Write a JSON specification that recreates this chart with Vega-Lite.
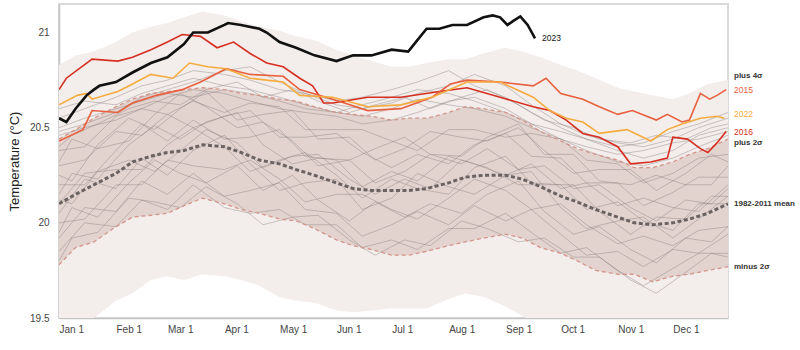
{
  "$schema": "https://vega.github.io/schema/vega-lite/v6.json",
  "width": 669,
  "height": 314,
  "autosize": {"type": "none"},
  "padding": {"left": 59, "top": 4, "right": 72, "bottom": 32},
  "background": "white",
  "config": {
    "font": "Liberation Sans",
    "view": {"stroke": "#dadada", "strokeWidth": 2},
    "axis": {"domainColor": "#c4c4c4", "domainWidth": 1.5, "grid": false, "ticks": false, "labelColor": "#444", "labelFontSize": 10}
  },
  "datasets": {
    "band": [
      {"d": "2023-01-01", "m4": 19.35, "m2": 19.78, "mean": 20.10, "p2": 20.44, "p4": 20.83},
      {"d": "2023-01-10", "m4": 19.40, "m2": 19.87, "mean": 20.15, "p2": 20.49, "p4": 20.88},
      {"d": "2023-01-20", "m4": 19.50, "m2": 19.90, "mean": 20.20, "p2": 20.55, "p4": 20.90},
      {"d": "2023-02-01", "m4": 19.59, "m2": 19.98, "mean": 20.26, "p2": 20.61, "p4": 20.95},
      {"d": "2023-02-10", "m4": 19.63, "m2": 20.03, "mean": 20.32, "p2": 20.65, "p4": 21.00},
      {"d": "2023-02-20", "m4": 19.70, "m2": 20.04, "mean": 20.35, "p2": 20.68, "p4": 21.03},
      {"d": "2023-03-01", "m4": 19.72, "m2": 20.05, "mean": 20.37, "p2": 20.69, "p4": 21.05},
      {"d": "2023-03-10", "m4": 19.70, "m2": 20.09, "mean": 20.38, "p2": 20.70, "p4": 21.08},
      {"d": "2023-03-20", "m4": 19.73, "m2": 20.13, "mean": 20.41, "p2": 20.71, "p4": 21.11},
      {"d": "2023-04-01", "m4": 19.72, "m2": 20.10, "mean": 20.40, "p2": 20.70, "p4": 21.09},
      {"d": "2023-04-10", "m4": 19.70, "m2": 20.07, "mean": 20.37, "p2": 20.68, "p4": 21.06},
      {"d": "2023-04-20", "m4": 19.67, "m2": 20.05, "mean": 20.33, "p2": 20.67, "p4": 21.03},
      {"d": "2023-05-01", "m4": 19.61, "m2": 20.02, "mean": 20.31, "p2": 20.65, "p4": 21.01},
      {"d": "2023-05-10", "m4": 19.59, "m2": 20.01, "mean": 20.28, "p2": 20.64, "p4": 20.98},
      {"d": "2023-05-20", "m4": 19.58, "m2": 19.97, "mean": 20.25, "p2": 20.61, "p4": 20.96},
      {"d": "2023-06-01", "m4": 19.54, "m2": 19.91, "mean": 20.21, "p2": 20.58, "p4": 20.91},
      {"d": "2023-06-10", "m4": 19.53, "m2": 19.88, "mean": 20.18, "p2": 20.57, "p4": 20.88},
      {"d": "2023-06-20", "m4": 19.54, "m2": 19.86, "mean": 20.17, "p2": 20.56, "p4": 20.85},
      {"d": "2023-07-01", "m4": 19.55, "m2": 19.83, "mean": 20.17, "p2": 20.54, "p4": 20.82},
      {"d": "2023-07-10", "m4": 19.55, "m2": 19.83, "mean": 20.17, "p2": 20.55, "p4": 20.82},
      {"d": "2023-07-20", "m4": 19.55, "m2": 19.85, "mean": 20.18, "p2": 20.55, "p4": 20.84},
      {"d": "2023-08-01", "m4": 19.60, "m2": 19.88, "mean": 20.21, "p2": 20.58, "p4": 20.86},
      {"d": "2023-08-10", "m4": 19.63, "m2": 19.90, "mean": 20.24, "p2": 20.61, "p4": 20.86},
      {"d": "2023-08-20", "m4": 19.61, "m2": 19.92, "mean": 20.25, "p2": 20.60, "p4": 20.89},
      {"d": "2023-09-01", "m4": 19.56, "m2": 19.94, "mean": 20.25, "p2": 20.58, "p4": 20.92},
      {"d": "2023-09-10", "m4": 19.51, "m2": 19.92, "mean": 20.23, "p2": 20.54, "p4": 20.90},
      {"d": "2023-09-20", "m4": 19.46, "m2": 19.87, "mean": 20.19, "p2": 20.48, "p4": 20.87},
      {"d": "2023-10-01", "m4": 19.42, "m2": 19.84, "mean": 20.14, "p2": 20.43, "p4": 20.83},
      {"d": "2023-10-10", "m4": 19.40, "m2": 19.80, "mean": 20.11, "p2": 20.39, "p4": 20.80},
      {"d": "2023-10-20", "m4": 19.38, "m2": 19.75, "mean": 20.07, "p2": 20.36, "p4": 20.76},
      {"d": "2023-11-01", "m4": 19.36, "m2": 19.73, "mean": 20.03, "p2": 20.33, "p4": 20.71},
      {"d": "2023-11-10", "m4": 19.35, "m2": 19.73, "mean": 20.00, "p2": 20.29, "p4": 20.69},
      {"d": "2023-11-20", "m4": 19.34, "m2": 19.69, "mean": 19.99, "p2": 20.29, "p4": 20.67},
      {"d": "2023-12-01", "m4": 19.36, "m2": 19.72, "mean": 20.00, "p2": 20.32, "p4": 20.65},
      {"d": "2023-12-10", "m4": 19.38, "m2": 19.73, "mean": 20.02, "p2": 20.36, "p4": 20.68},
      {"d": "2023-12-20", "m4": 19.40, "m2": 19.75, "mean": 20.05, "p2": 20.39, "p4": 20.73},
      {"d": "2023-12-31", "m4": 19.42, "m2": 19.77, "mean": 20.10, "p2": 20.44, "p4": 20.75}
    ],
    "grays": [
      {"s": "u1", "d": "2023-01-01", "v": 20.55}, {"s": "u1", "d": "2023-01-15", "v": 20.60}, {"s": "u1", "d": "2023-02-01", "v": 20.66}, {"s": "u1", "d": "2023-02-15", "v": 20.72}, {"s": "u1", "d": "2023-03-01", "v": 20.75}, {"s": "u1", "d": "2023-03-15", "v": 20.80}, {"s": "u1", "d": "2023-04-01", "v": 20.78}, {"s": "u1", "d": "2023-04-15", "v": 20.75}, {"s": "u1", "d": "2023-05-01", "v": 20.70}, {"s": "u1", "d": "2023-05-15", "v": 20.68}, {"s": "u1", "d": "2023-06-01", "v": 20.62}, {"s": "u1", "d": "2023-06-15", "v": 20.60}, {"s": "u1", "d": "2023-07-01", "v": 20.63}, {"s": "u1", "d": "2023-07-15", "v": 20.68}, {"s": "u1", "d": "2023-08-01", "v": 20.72}, {"s": "u1", "d": "2023-08-15", "v": 20.78}, {"s": "u1", "d": "2023-09-01", "v": 20.72}, {"s": "u1", "d": "2023-09-15", "v": 20.62}, {"s": "u1", "d": "2023-10-01", "v": 20.52}, {"s": "u1", "d": "2023-10-15", "v": 20.46}, {"s": "u1", "d": "2023-11-01", "v": 20.42}, {"s": "u1", "d": "2023-11-15", "v": 20.40}, {"s": "u1", "d": "2023-12-01", "v": 20.44}, {"s": "u1", "d": "2023-12-15", "v": 20.50}, {"s": "u1", "d": "2023-12-31", "v": 20.55},
      {"s": "u2", "d": "2023-01-01", "v": 20.48}, {"s": "u2", "d": "2023-01-15", "v": 20.52}, {"s": "u2", "d": "2023-02-01", "v": 20.58}, {"s": "u2", "d": "2023-02-15", "v": 20.66}, {"s": "u2", "d": "2023-03-01", "v": 20.70}, {"s": "u2", "d": "2023-03-15", "v": 20.74}, {"s": "u2", "d": "2023-04-01", "v": 20.80}, {"s": "u2", "d": "2023-04-15", "v": 20.82}, {"s": "u2", "d": "2023-05-01", "v": 20.74}, {"s": "u2", "d": "2023-05-15", "v": 20.68}, {"s": "u2", "d": "2023-06-01", "v": 20.64}, {"s": "u2", "d": "2023-06-15", "v": 20.66}, {"s": "u2", "d": "2023-07-01", "v": 20.70}, {"s": "u2", "d": "2023-07-15", "v": 20.74}, {"s": "u2", "d": "2023-08-01", "v": 20.80}, {"s": "u2", "d": "2023-08-15", "v": 20.72}, {"s": "u2", "d": "2023-09-01", "v": 20.66}, {"s": "u2", "d": "2023-09-15", "v": 20.58}, {"s": "u2", "d": "2023-10-01", "v": 20.50}, {"s": "u2", "d": "2023-10-15", "v": 20.44}, {"s": "u2", "d": "2023-11-01", "v": 20.38}, {"s": "u2", "d": "2023-11-15", "v": 20.34}, {"s": "u2", "d": "2023-12-01", "v": 20.38}, {"s": "u2", "d": "2023-12-15", "v": 20.46}, {"s": "u2", "d": "2023-12-31", "v": 20.50},
      {"s": "u3", "d": "2023-01-01", "v": 20.60}, {"s": "u3", "d": "2023-01-15", "v": 20.64}, {"s": "u3", "d": "2023-02-01", "v": 20.62}, {"s": "u3", "d": "2023-02-15", "v": 20.68}, {"s": "u3", "d": "2023-03-01", "v": 20.72}, {"s": "u3", "d": "2023-03-15", "v": 20.76}, {"s": "u3", "d": "2023-04-01", "v": 20.72}, {"s": "u3", "d": "2023-04-15", "v": 20.70}, {"s": "u3", "d": "2023-05-01", "v": 20.66}, {"s": "u3", "d": "2023-05-15", "v": 20.62}, {"s": "u3", "d": "2023-06-01", "v": 20.58}, {"s": "u3", "d": "2023-06-15", "v": 20.56}, {"s": "u3", "d": "2023-07-01", "v": 20.60}, {"s": "u3", "d": "2023-07-15", "v": 20.65}, {"s": "u3", "d": "2023-08-01", "v": 20.62}, {"s": "u3", "d": "2023-08-15", "v": 20.60}, {"s": "u3", "d": "2023-09-01", "v": 20.56}, {"s": "u3", "d": "2023-09-15", "v": 20.50}, {"s": "u3", "d": "2023-10-01", "v": 20.44}, {"s": "u3", "d": "2023-10-15", "v": 20.40}, {"s": "u3", "d": "2023-11-01", "v": 20.36}, {"s": "u3", "d": "2023-11-15", "v": 20.38}, {"s": "u3", "d": "2023-12-01", "v": 20.42}, {"s": "u3", "d": "2023-12-15", "v": 20.44}, {"s": "u3", "d": "2023-12-31", "v": 20.48},
      {"s": "u4", "d": "2023-01-01", "v": 20.46}, {"s": "u4", "d": "2023-01-15", "v": 20.50}, {"s": "u4", "d": "2023-02-01", "v": 20.54}, {"s": "u4", "d": "2023-02-15", "v": 20.60}, {"s": "u4", "d": "2023-03-01", "v": 20.66}, {"s": "u4", "d": "2023-03-15", "v": 20.70}, {"s": "u4", "d": "2023-04-01", "v": 20.68}, {"s": "u4", "d": "2023-04-15", "v": 20.64}, {"s": "u4", "d": "2023-05-01", "v": 20.60}, {"s": "u4", "d": "2023-05-15", "v": 20.58}, {"s": "u4", "d": "2023-06-01", "v": 20.56}, {"s": "u4", "d": "2023-06-15", "v": 20.52}, {"s": "u4", "d": "2023-07-01", "v": 20.54}, {"s": "u4", "d": "2023-07-15", "v": 20.58}, {"s": "u4", "d": "2023-08-01", "v": 20.64}, {"s": "u4", "d": "2023-08-15", "v": 20.66}, {"s": "u4", "d": "2023-09-01", "v": 20.60}, {"s": "u4", "d": "2023-09-15", "v": 20.52}, {"s": "u4", "d": "2023-10-01", "v": 20.44}, {"s": "u4", "d": "2023-10-15", "v": 20.38}, {"s": "u4", "d": "2023-11-01", "v": 20.32}, {"s": "u4", "d": "2023-11-15", "v": 20.30}, {"s": "u4", "d": "2023-12-01", "v": 20.34}, {"s": "u4", "d": "2023-12-15", "v": 20.40}, {"s": "u4", "d": "2023-12-31", "v": 20.46},
      {"s": "u5", "d": "2023-01-01", "v": 20.50}, {"s": "u5", "d": "2023-01-15", "v": 20.55}, {"s": "u5", "d": "2023-02-01", "v": 20.60}, {"s": "u5", "d": "2023-02-15", "v": 20.64}, {"s": "u5", "d": "2023-03-01", "v": 20.68}, {"s": "u5", "d": "2023-03-15", "v": 20.66}, {"s": "u5", "d": "2023-04-01", "v": 20.70}, {"s": "u5", "d": "2023-04-15", "v": 20.68}, {"s": "u5", "d": "2023-05-01", "v": 20.64}, {"s": "u5", "d": "2023-05-15", "v": 20.60}, {"s": "u5", "d": "2023-06-01", "v": 20.58}, {"s": "u5", "d": "2023-06-15", "v": 20.62}, {"s": "u5", "d": "2023-07-01", "v": 20.66}, {"s": "u5", "d": "2023-07-15", "v": 20.70}, {"s": "u5", "d": "2023-08-01", "v": 20.68}, {"s": "u5", "d": "2023-08-15", "v": 20.64}, {"s": "u5", "d": "2023-09-01", "v": 20.58}, {"s": "u5", "d": "2023-09-15", "v": 20.52}, {"s": "u5", "d": "2023-10-01", "v": 20.48}, {"s": "u5", "d": "2023-10-15", "v": 20.44}, {"s": "u5", "d": "2023-11-01", "v": 20.40}, {"s": "u5", "d": "2023-11-15", "v": 20.42}, {"s": "u5", "d": "2023-12-01", "v": 20.48}, {"s": "u5", "d": "2023-12-15", "v": 20.52}, {"s": "u5", "d": "2023-12-31", "v": 20.58},
      {"s": "u6", "d": "2023-01-01", "v": 20.40}, {"s": "u6", "d": "2023-01-08", "v": 20.46}, {"s": "u6", "d": "2023-01-22", "v": 20.52}, {"s": "u6", "d": "2023-02-08", "v": 20.60}, {"s": "u6", "d": "2023-02-22", "v": 20.64}, {"s": "u6", "d": "2023-03-08", "v": 20.62}, {"s": "u6", "d": "2023-03-22", "v": 20.70}, {"s": "u6", "d": "2023-04-08", "v": 20.74}, {"s": "u6", "d": "2023-04-22", "v": 20.66}, {"s": "u6", "d": "2023-05-08", "v": 20.70}, {"s": "u6", "d": "2023-05-22", "v": 20.64}, {"s": "u6", "d": "2023-06-08", "v": 20.58}, {"s": "u6", "d": "2023-06-22", "v": 20.62}, {"s": "u6", "d": "2023-07-08", "v": 20.66}, {"s": "u6", "d": "2023-07-22", "v": 20.60}, {"s": "u6", "d": "2023-08-08", "v": 20.66}, {"s": "u6", "d": "2023-08-22", "v": 20.70}, {"s": "u6", "d": "2023-09-08", "v": 20.62}, {"s": "u6", "d": "2023-09-22", "v": 20.54}, {"s": "u6", "d": "2023-10-08", "v": 20.50}, {"s": "u6", "d": "2023-10-22", "v": 20.44}, {"s": "u6", "d": "2023-11-08", "v": 20.42}, {"s": "u6", "d": "2023-11-22", "v": 20.46}, {"s": "u6", "d": "2023-12-08", "v": 20.44}, {"s": "u6", "d": "2023-12-22", "v": 20.50}, {"s": "u6", "d": "2023-12-31", "v": 20.52},
      {"s": "g1", "d": "2023-01-01", "v": 20.30}, {"s": "g1", "d": "2023-01-15", "v": 20.33}, {"s": "g1", "d": "2023-02-01", "v": 20.48}, {"s": "g1", "d": "2023-02-15", "v": 20.46}, {"s": "g1", "d": "2023-03-01", "v": 20.57}, {"s": "g1", "d": "2023-03-15", "v": 20.50}, {"s": "g1", "d": "2023-04-01", "v": 20.56}, {"s": "g1", "d": "2023-04-15", "v": 20.59}, {"s": "g1", "d": "2023-05-01", "v": 20.45}, {"s": "g1", "d": "2023-05-15", "v": 20.45}, {"s": "g1", "d": "2023-06-01", "v": 20.47}, {"s": "g1", "d": "2023-06-15", "v": 20.37}, {"s": "g1", "d": "2023-07-01", "v": 20.29}, {"s": "g1", "d": "2023-07-15", "v": 20.36}, {"s": "g1", "d": "2023-08-01", "v": 20.31}, {"s": "g1", "d": "2023-08-15", "v": 20.41}, {"s": "g1", "d": "2023-09-01", "v": 20.47}, {"s": "g1", "d": "2023-09-15", "v": 20.35}, {"s": "g1", "d": "2023-10-01", "v": 20.34}, {"s": "g1", "d": "2023-10-15", "v": 20.21}, {"s": "g1", "d": "2023-11-01", "v": 20.21}, {"s": "g1", "d": "2023-11-15", "v": 20.09}, {"s": "g1", "d": "2023-12-01", "v": 20.16}, {"s": "g1", "d": "2023-12-15", "v": 20.24}, {"s": "g1", "d": "2023-12-31", "v": 20.24},
      {"s": "g2", "d": "2023-01-01", "v": 20.05}, {"s": "g2", "d": "2023-01-15", "v": 20.23}, {"s": "g2", "d": "2023-02-01", "v": 20.18}, {"s": "g2", "d": "2023-02-15", "v": 20.34}, {"s": "g2", "d": "2023-03-01", "v": 20.25}, {"s": "g2", "d": "2023-03-15", "v": 20.38}, {"s": "g2", "d": "2023-04-01", "v": 20.46}, {"s": "g2", "d": "2023-04-15", "v": 20.31}, {"s": "g2", "d": "2023-05-01", "v": 20.17}, {"s": "g2", "d": "2023-05-15", "v": 20.21}, {"s": "g2", "d": "2023-06-01", "v": 20.23}, {"s": "g2", "d": "2023-06-15", "v": 20.07}, {"s": "g2", "d": "2023-07-01", "v": 20.13}, {"s": "g2", "d": "2023-07-15", "v": 20.26}, {"s": "g2", "d": "2023-08-01", "v": 20.19}, {"s": "g2", "d": "2023-08-15", "v": 20.15}, {"s": "g2", "d": "2023-09-01", "v": 20.25}, {"s": "g2", "d": "2023-09-15", "v": 20.27}, {"s": "g2", "d": "2023-10-01", "v": 20.08}, {"s": "g2", "d": "2023-10-15", "v": 19.97}, {"s": "g2", "d": "2023-11-01", "v": 20.01}, {"s": "g2", "d": "2023-11-15", "v": 20.03}, {"s": "g2", "d": "2023-12-01", "v": 19.92}, {"s": "g2", "d": "2023-12-15", "v": 20.02}, {"s": "g2", "d": "2023-12-31", "v": 20.14},
      {"s": "g3", "d": "2023-01-01", "v": 19.92}, {"s": "g3", "d": "2023-01-15", "v": 20.08}, {"s": "g3", "d": "2023-02-01", "v": 20.06}, {"s": "g3", "d": "2023-02-15", "v": 20.22}, {"s": "g3", "d": "2023-03-01", "v": 20.15}, {"s": "g3", "d": "2023-03-15", "v": 20.26}, {"s": "g3", "d": "2023-04-01", "v": 20.14}, {"s": "g3", "d": "2023-04-15", "v": 20.17}, {"s": "g3", "d": "2023-05-01", "v": 20.21}, {"s": "g3", "d": "2023-05-15", "v": 20.07}, {"s": "g3", "d": "2023-06-01", "v": 20.05}, {"s": "g3", "d": "2023-06-15", "v": 19.93}, {"s": "g3", "d": "2023-07-01", "v": 19.99}, {"s": "g3", "d": "2023-07-15", "v": 20.06}, {"s": "g3", "d": "2023-08-01", "v": 19.99}, {"s": "g3", "d": "2023-08-15", "v": 20.09}, {"s": "g3", "d": "2023-09-01", "v": 20.01}, {"s": "g3", "d": "2023-09-15", "v": 20.07}, {"s": "g3", "d": "2023-10-01", "v": 19.94}, {"s": "g3", "d": "2023-10-15", "v": 19.83}, {"s": "g3", "d": "2023-11-01", "v": 19.85}, {"s": "g3", "d": "2023-11-15", "v": 19.77}, {"s": "g3", "d": "2023-12-01", "v": 19.86}, {"s": "g3", "d": "2023-12-15", "v": 19.84}, {"s": "g3", "d": "2023-12-31", "v": 19.94},
      {"s": "g4", "d": "2023-01-01", "v": 20.20}, {"s": "g4", "d": "2023-01-15", "v": 20.20}, {"s": "g4", "d": "2023-02-01", "v": 20.38}, {"s": "g4", "d": "2023-02-15", "v": 20.52}, {"s": "g4", "d": "2023-03-01", "v": 20.43}, {"s": "g4", "d": "2023-03-15", "v": 20.54}, {"s": "g4", "d": "2023-04-01", "v": 20.44}, {"s": "g4", "d": "2023-04-15", "v": 20.45}, {"s": "g4", "d": "2023-05-01", "v": 20.49}, {"s": "g4", "d": "2023-05-15", "v": 20.35}, {"s": "g4", "d": "2023-06-01", "v": 20.33}, {"s": "g4", "d": "2023-06-15", "v": 20.19}, {"s": "g4", "d": "2023-07-01", "v": 20.27}, {"s": "g4", "d": "2023-07-15", "v": 20.22}, {"s": "g4", "d": "2023-08-01", "v": 20.35}, {"s": "g4", "d": "2023-08-15", "v": 20.31}, {"s": "g4", "d": "2023-09-01", "v": 20.25}, {"s": "g4", "d": "2023-09-15", "v": 20.31}, {"s": "g4", "d": "2023-10-01", "v": 20.18}, {"s": "g4", "d": "2023-10-15", "v": 20.21}, {"s": "g4", "d": "2023-11-01", "v": 20.09}, {"s": "g4", "d": "2023-11-15", "v": 20.13}, {"s": "g4", "d": "2023-12-01", "v": 20.08}, {"s": "g4", "d": "2023-12-15", "v": 20.06}, {"s": "g4", "d": "2023-12-31", "v": 20.20},
      {"s": "g5", "d": "2023-01-01", "v": 19.85}, {"s": "g5", "d": "2023-01-15", "v": 20.00}, {"s": "g5", "d": "2023-02-01", "v": 19.98}, {"s": "g5", "d": "2023-02-15", "v": 20.12}, {"s": "g5", "d": "2023-03-01", "v": 20.07}, {"s": "g5", "d": "2023-03-15", "v": 20.20}, {"s": "g5", "d": "2023-04-01", "v": 20.08}, {"s": "g5", "d": "2023-04-15", "v": 20.05}, {"s": "g5", "d": "2023-05-01", "v": 20.07}, {"s": "g5", "d": "2023-05-15", "v": 19.99}, {"s": "g5", "d": "2023-06-01", "v": 19.99}, {"s": "g5", "d": "2023-06-15", "v": 19.87}, {"s": "g5", "d": "2023-07-01", "v": 19.91}, {"s": "g5", "d": "2023-07-15", "v": 19.86}, {"s": "g5", "d": "2023-08-01", "v": 19.97}, {"s": "g5", "d": "2023-08-15", "v": 19.97}, {"s": "g5", "d": "2023-09-01", "v": 20.05}, {"s": "g5", "d": "2023-09-15", "v": 19.95}, {"s": "g5", "d": "2023-10-01", "v": 19.84}, {"s": "g5", "d": "2023-10-15", "v": 19.87}, {"s": "g5", "d": "2023-11-01", "v": 19.75}, {"s": "g5", "d": "2023-11-15", "v": 19.67}, {"s": "g5", "d": "2023-12-01", "v": 19.76}, {"s": "g5", "d": "2023-12-15", "v": 19.84}, {"s": "g5", "d": "2023-12-31", "v": 19.84},
      {"s": "g6", "d": "2023-01-01", "v": 20.10}, {"s": "g6", "d": "2023-01-15", "v": 20.26}, {"s": "g6", "d": "2023-02-01", "v": 20.28}, {"s": "g6", "d": "2023-02-15", "v": 20.28}, {"s": "g6", "d": "2023-03-01", "v": 20.41}, {"s": "g6", "d": "2023-03-15", "v": 20.50}, {"s": "g6", "d": "2023-04-01", "v": 20.40}, {"s": "g6", "d": "2023-04-15", "v": 20.27}, {"s": "g6", "d": "2023-05-01", "v": 20.33}, {"s": "g6", "d": "2023-05-15", "v": 20.37}, {"s": "g6", "d": "2023-06-01", "v": 20.25}, {"s": "g6", "d": "2023-06-15", "v": 20.13}, {"s": "g6", "d": "2023-07-01", "v": 20.23}, {"s": "g6", "d": "2023-07-15", "v": 20.18}, {"s": "g6", "d": "2023-08-01", "v": 20.15}, {"s": "g6", "d": "2023-08-15", "v": 20.29}, {"s": "g6", "d": "2023-09-01", "v": 20.35}, {"s": "g6", "d": "2023-09-15", "v": 20.21}, {"s": "g6", "d": "2023-10-01", "v": 20.20}, {"s": "g6", "d": "2023-10-15", "v": 20.07}, {"s": "g6", "d": "2023-11-01", "v": 20.11}, {"s": "g6", "d": "2023-11-15", "v": 20.01}, {"s": "g6", "d": "2023-12-01", "v": 19.96}, {"s": "g6", "d": "2023-12-15", "v": 20.10}, {"s": "g6", "d": "2023-12-31", "v": 20.10},
      {"s": "g7", "d": "2023-01-01", "v": 20.38}, {"s": "g7", "d": "2023-01-15", "v": 20.40}, {"s": "g7", "d": "2023-02-01", "v": 20.56}, {"s": "g7", "d": "2023-02-15", "v": 20.60}, {"s": "g7", "d": "2023-03-01", "v": 20.57}, {"s": "g7", "d": "2023-03-15", "v": 20.64}, {"s": "g7", "d": "2023-04-01", "v": 20.58}, {"s": "g7", "d": "2023-04-15", "v": 20.63}, {"s": "g7", "d": "2023-05-01", "v": 20.61}, {"s": "g7", "d": "2023-05-15", "v": 20.49}, {"s": "g7", "d": "2023-06-01", "v": 20.49}, {"s": "g7", "d": "2023-06-15", "v": 20.49}, {"s": "g7", "d": "2023-07-01", "v": 20.43}, {"s": "g7", "d": "2023-07-15", "v": 20.38}, {"s": "g7", "d": "2023-08-01", "v": 20.49}, {"s": "g7", "d": "2023-08-15", "v": 20.49}, {"s": "g7", "d": "2023-09-01", "v": 20.45}, {"s": "g7", "d": "2023-09-15", "v": 20.47}, {"s": "g7", "d": "2023-10-01", "v": 20.44}, {"s": "g7", "d": "2023-10-15", "v": 20.33}, {"s": "g7", "d": "2023-11-01", "v": 20.31}, {"s": "g7", "d": "2023-11-15", "v": 20.21}, {"s": "g7", "d": "2023-12-01", "v": 20.26}, {"s": "g7", "d": "2023-12-15", "v": 20.34}, {"s": "g7", "d": "2023-12-31", "v": 20.36},
      {"s": "g8", "d": "2023-01-01", "v": 20.00}, {"s": "g8", "d": "2023-01-15", "v": 20.02}, {"s": "g8", "d": "2023-02-01", "v": 20.20}, {"s": "g8", "d": "2023-02-15", "v": 20.20}, {"s": "g8", "d": "2023-03-01", "v": 20.33}, {"s": "g8", "d": "2023-03-15", "v": 20.30}, {"s": "g8", "d": "2023-04-01", "v": 20.28}, {"s": "g8", "d": "2023-04-15", "v": 20.33}, {"s": "g8", "d": "2023-05-01", "v": 20.23}, {"s": "g8", "d": "2023-05-15", "v": 20.11}, {"s": "g8", "d": "2023-06-01", "v": 20.15}, {"s": "g8", "d": "2023-06-15", "v": 20.15}, {"s": "g8", "d": "2023-07-01", "v": 20.07}, {"s": "g8", "d": "2023-07-15", "v": 20.02}, {"s": "g8", "d": "2023-08-01", "v": 20.13}, {"s": "g8", "d": "2023-08-15", "v": 20.23}, {"s": "g8", "d": "2023-09-01", "v": 20.17}, {"s": "g8", "d": "2023-09-15", "v": 20.07}, {"s": "g8", "d": "2023-10-01", "v": 20.10}, {"s": "g8", "d": "2023-10-15", "v": 19.99}, {"s": "g8", "d": "2023-11-01", "v": 19.89}, {"s": "g8", "d": "2023-11-15", "v": 19.93}, {"s": "g8", "d": "2023-12-01", "v": 19.88}, {"s": "g8", "d": "2023-12-15", "v": 19.96}, {"s": "g8", "d": "2023-12-31", "v": 19.98},
      {"s": "g9", "d": "2023-01-01", "v": 20.15}, {"s": "g9", "d": "2023-01-08", "v": 20.26}, {"s": "g9", "d": "2023-01-22", "v": 20.23}, {"s": "g9", "d": "2023-02-08", "v": 20.41}, {"s": "g9", "d": "2023-02-22", "v": 20.51}, {"s": "g9", "d": "2023-03-08", "v": 20.44}, {"s": "g9", "d": "2023-03-22", "v": 20.53}, {"s": "g9", "d": "2023-04-08", "v": 20.58}, {"s": "g9", "d": "2023-04-22", "v": 20.41}, {"s": "g9", "d": "2023-05-08", "v": 20.31}, {"s": "g9", "d": "2023-05-22", "v": 20.34}, {"s": "g9", "d": "2023-06-08", "v": 20.33}, {"s": "g9", "d": "2023-06-22", "v": 20.21}, {"s": "g9", "d": "2023-07-08", "v": 20.27}, {"s": "g9", "d": "2023-07-22", "v": 20.36}, {"s": "g9", "d": "2023-08-08", "v": 20.31}, {"s": "g9", "d": "2023-08-22", "v": 20.39}, {"s": "g9", "d": "2023-09-08", "v": 20.28}, {"s": "g9", "d": "2023-09-22", "v": 20.30}, {"s": "g9", "d": "2023-10-08", "v": 20.18}, {"s": "g9", "d": "2023-10-22", "v": 20.20}, {"s": "g9", "d": "2023-11-08", "v": 20.08}, {"s": "g9", "d": "2023-11-22", "v": 20.01}, {"s": "g9", "d": "2023-12-08", "v": 20.12}, {"s": "g9", "d": "2023-12-22", "v": 20.10}, {"s": "g9", "d": "2023-12-31", "v": 20.18},
      {"s": "g10", "d": "2023-01-01", "v": 19.95}, {"s": "g10", "d": "2023-01-08", "v": 20.08}, {"s": "g10", "d": "2023-01-22", "v": 20.03}, {"s": "g10", "d": "2023-02-08", "v": 20.21}, {"s": "g10", "d": "2023-02-22", "v": 20.33}, {"s": "g10", "d": "2023-03-08", "v": 20.26}, {"s": "g10", "d": "2023-03-22", "v": 20.21}, {"s": "g10", "d": "2023-04-08", "v": 20.30}, {"s": "g10", "d": "2023-04-22", "v": 20.17}, {"s": "g10", "d": "2023-05-08", "v": 20.25}, {"s": "g10", "d": "2023-05-22", "v": 20.12}, {"s": "g10", "d": "2023-06-08", "v": 20.01}, {"s": "g10", "d": "2023-06-22", "v": 20.11}, {"s": "g10", "d": "2023-07-08", "v": 20.03}, {"s": "g10", "d": "2023-07-22", "v": 20.10}, {"s": "g10", "d": "2023-08-08", "v": 20.05}, {"s": "g10", "d": "2023-08-22", "v": 20.15}, {"s": "g10", "d": "2023-09-08", "v": 20.22}, {"s": "g10", "d": "2023-09-22", "v": 20.06}, {"s": "g10", "d": "2023-10-08", "v": 19.94}, {"s": "g10", "d": "2023-10-22", "v": 19.98}, {"s": "g10", "d": "2023-11-08", "v": 19.86}, {"s": "g10", "d": "2023-11-22", "v": 19.79}, {"s": "g10", "d": "2023-12-08", "v": 19.92}, {"s": "g10", "d": "2023-12-22", "v": 19.90}, {"s": "g10", "d": "2023-12-31", "v": 19.98},
      {"s": "g11", "d": "2023-01-01", "v": 20.25}, {"s": "g11", "d": "2023-01-08", "v": 20.22}, {"s": "g11", "d": "2023-01-22", "v": 20.41}, {"s": "g11", "d": "2023-02-08", "v": 20.55}, {"s": "g11", "d": "2023-02-22", "v": 20.49}, {"s": "g11", "d": "2023-03-08", "v": 20.60}, {"s": "g11", "d": "2023-03-22", "v": 20.69}, {"s": "g11", "d": "2023-04-08", "v": 20.54}, {"s": "g11", "d": "2023-04-22", "v": 20.57}, {"s": "g11", "d": "2023-05-08", "v": 20.59}, {"s": "g11", "d": "2023-05-22", "v": 20.44}, {"s": "g11", "d": "2023-06-08", "v": 20.45}, {"s": "g11", "d": "2023-06-22", "v": 20.33}, {"s": "g11", "d": "2023-07-08", "v": 20.39}, {"s": "g11", "d": "2023-07-22", "v": 20.48}, {"s": "g11", "d": "2023-08-08", "v": 20.45}, {"s": "g11", "d": "2023-08-22", "v": 20.43}, {"s": "g11", "d": "2023-09-08", "v": 20.50}, {"s": "g11", "d": "2023-09-22", "v": 20.38}, {"s": "g11", "d": "2023-10-08", "v": 20.26}, {"s": "g11", "d": "2023-10-22", "v": 20.28}, {"s": "g11", "d": "2023-11-08", "v": 20.28}, {"s": "g11", "d": "2023-11-22", "v": 20.17}, {"s": "g11", "d": "2023-12-08", "v": 20.26}, {"s": "g11", "d": "2023-12-22", "v": 20.36}, {"s": "g11", "d": "2023-12-31", "v": 20.32},
      {"s": "g12", "d": "2023-01-01", "v": 19.80}, {"s": "g12", "d": "2023-01-08", "v": 19.92}, {"s": "g12", "d": "2023-01-22", "v": 19.95}, {"s": "g12", "d": "2023-02-08", "v": 20.13}, {"s": "g12", "d": "2023-02-22", "v": 20.11}, {"s": "g12", "d": "2023-03-08", "v": 20.08}, {"s": "g12", "d": "2023-03-22", "v": 20.19}, {"s": "g12", "d": "2023-04-08", "v": 20.10}, {"s": "g12", "d": "2023-04-22", "v": 19.99}, {"s": "g12", "d": "2023-05-08", "v": 20.03}, {"s": "g12", "d": "2023-05-22", "v": 20.04}, {"s": "g12", "d": "2023-06-08", "v": 19.91}, {"s": "g12", "d": "2023-06-22", "v": 19.83}, {"s": "g12", "d": "2023-07-08", "v": 19.91}, {"s": "g12", "d": "2023-07-22", "v": 19.88}, {"s": "g12", "d": "2023-08-08", "v": 20.01}, {"s": "g12", "d": "2023-08-22", "v": 19.97}, {"s": "g12", "d": "2023-09-08", "v": 19.90}, {"s": "g12", "d": "2023-09-22", "v": 19.92}, {"s": "g12", "d": "2023-10-08", "v": 19.82}, {"s": "g12", "d": "2023-10-22", "v": 19.82}, {"s": "g12", "d": "2023-11-08", "v": 19.70}, {"s": "g12", "d": "2023-11-22", "v": 19.63}, {"s": "g12", "d": "2023-12-08", "v": 19.74}, {"s": "g12", "d": "2023-12-22", "v": 19.84}, {"s": "g12", "d": "2023-12-31", "v": 19.82},
      {"s": "g13", "d": "2023-01-01", "v": 20.12}, {"s": "g13", "d": "2023-01-08", "v": 20.10}, {"s": "g13", "d": "2023-01-22", "v": 20.27}, {"s": "g13", "d": "2023-02-08", "v": 20.33}, {"s": "g13", "d": "2023-02-22", "v": 20.27}, {"s": "g13", "d": "2023-03-08", "v": 20.38}, {"s": "g13", "d": "2023-03-22", "v": 20.49}, {"s": "g13", "d": "2023-04-08", "v": 20.42}, {"s": "g13", "d": "2023-04-22", "v": 20.29}, {"s": "g13", "d": "2023-05-08", "v": 20.35}, {"s": "g13", "d": "2023-05-22", "v": 20.36}, {"s": "g13", "d": "2023-06-08", "v": 20.23}, {"s": "g13", "d": "2023-06-22", "v": 20.15}, {"s": "g13", "d": "2023-07-08", "v": 20.23}, {"s": "g13", "d": "2023-07-22", "v": 20.18}, {"s": "g13", "d": "2023-08-08", "v": 20.33}, {"s": "g13", "d": "2023-08-22", "v": 20.29}, {"s": "g13", "d": "2023-09-08", "v": 20.20}, {"s": "g13", "d": "2023-09-22", "v": 20.20}, {"s": "g13", "d": "2023-10-08", "v": 20.20}, {"s": "g13", "d": "2023-10-22", "v": 20.06}, {"s": "g13", "d": "2023-11-08", "v": 19.94}, {"s": "g13", "d": "2023-11-22", "v": 20.03}, {"s": "g13", "d": "2023-12-08", "v": 20.02}, {"s": "g13", "d": "2023-12-22", "v": 20.14}, {"s": "g13", "d": "2023-12-31", "v": 20.14},
      {"s": "g14", "d": "2023-01-01", "v": 20.32}, {"s": "g14", "d": "2023-01-08", "v": 20.44}, {"s": "g14", "d": "2023-01-22", "v": 20.39}, {"s": "g14", "d": "2023-02-08", "v": 20.43}, {"s": "g14", "d": "2023-02-22", "v": 20.57}, {"s": "g14", "d": "2023-03-08", "v": 20.68}, {"s": "g14", "d": "2023-03-22", "v": 20.61}, {"s": "g14", "d": "2023-04-08", "v": 20.50}, {"s": "g14", "d": "2023-04-22", "v": 20.53}, {"s": "g14", "d": "2023-05-08", "v": 20.43}, {"s": "g14", "d": "2023-05-22", "v": 20.30}, {"s": "g14", "d": "2023-06-08", "v": 20.33}, {"s": "g14", "d": "2023-06-22", "v": 20.39}, {"s": "g14", "d": "2023-07-08", "v": 20.45}, {"s": "g14", "d": "2023-07-22", "v": 20.36}, {"s": "g14", "d": "2023-08-08", "v": 20.35}, {"s": "g14", "d": "2023-08-22", "v": 20.45}, {"s": "g14", "d": "2023-09-08", "v": 20.52}, {"s": "g14", "d": "2023-09-22", "v": 20.36}, {"s": "g14", "d": "2023-10-08", "v": 20.36}, {"s": "g14", "d": "2023-10-22", "v": 20.22}, {"s": "g14", "d": "2023-11-08", "v": 20.20}, {"s": "g14", "d": "2023-11-22", "v": 20.25}, {"s": "g14", "d": "2023-12-08", "v": 20.20}, {"s": "g14", "d": "2023-12-22", "v": 20.20}, {"s": "g14", "d": "2023-12-31", "v": 20.30}
    ],
    "hi": [
      {"s": "2016", "d": "2023-01-01", "v": 20.70}, {"s": "2016", "d": "2023-01-05", "v": 20.76}, {"s": "2016", "d": "2023-01-12", "v": 20.81}, {"s": "2016", "d": "2023-01-19", "v": 20.86}, {"s": "2016", "d": "2023-02-02", "v": 20.85}, {"s": "2016", "d": "2023-02-10", "v": 20.87}, {"s": "2016", "d": "2023-02-20", "v": 20.91}, {"s": "2016", "d": "2023-03-01", "v": 20.95}, {"s": "2016", "d": "2023-03-09", "v": 20.99}, {"s": "2016", "d": "2023-03-19", "v": 20.98}, {"s": "2016", "d": "2023-03-28", "v": 20.92}, {"s": "2016", "d": "2023-04-06", "v": 20.95}, {"s": "2016", "d": "2023-04-15", "v": 20.89}, {"s": "2016", "d": "2023-04-24", "v": 20.84}, {"s": "2016", "d": "2023-05-03", "v": 20.82}, {"s": "2016", "d": "2023-05-12", "v": 20.76}, {"s": "2016", "d": "2023-05-19", "v": 20.72}, {"s": "2016", "d": "2023-05-25", "v": 20.63}, {"s": "2016", "d": "2023-05-30", "v": 20.63}, {"s": "2016", "d": "2023-06-18", "v": 20.66}, {"s": "2016", "d": "2023-07-06", "v": 20.66}, {"s": "2016", "d": "2023-07-27", "v": 20.69}, {"s": "2016", "d": "2023-08-11", "v": 20.71}, {"s": "2016", "d": "2023-08-29", "v": 20.66}, {"s": "2016", "d": "2023-09-16", "v": 20.61}, {"s": "2016", "d": "2023-09-25", "v": 20.59}, {"s": "2016", "d": "2023-10-04", "v": 20.54}, {"s": "2016", "d": "2023-10-13", "v": 20.47}, {"s": "2016", "d": "2023-10-22", "v": 20.45}, {"s": "2016", "d": "2023-11-01", "v": 20.40}, {"s": "2016", "d": "2023-11-08", "v": 20.31}, {"s": "2016", "d": "2023-11-19", "v": 20.32}, {"s": "2016", "d": "2023-11-28", "v": 20.34}, {"s": "2016", "d": "2023-12-01", "v": 20.45}, {"s": "2016", "d": "2023-12-09", "v": 20.44}, {"s": "2016", "d": "2023-12-16", "v": 20.39}, {"s": "2016", "d": "2023-12-20", "v": 20.37}, {"s": "2016", "d": "2023-12-25", "v": 20.42}, {"s": "2016", "d": "2023-12-30", "v": 20.48},
      {"s": "2015", "d": "2023-01-01", "v": 20.43}, {"s": "2015", "d": "2023-01-14", "v": 20.49}, {"s": "2015", "d": "2023-01-19", "v": 20.59}, {"s": "2015", "d": "2023-02-02", "v": 20.58}, {"s": "2015", "d": "2023-02-10", "v": 20.63}, {"s": "2015", "d": "2023-02-23", "v": 20.67}, {"s": "2015", "d": "2023-03-09", "v": 20.70}, {"s": "2015", "d": "2023-03-19", "v": 20.74}, {"s": "2015", "d": "2023-04-02", "v": 20.81}, {"s": "2015", "d": "2023-04-15", "v": 20.78}, {"s": "2015", "d": "2023-05-03", "v": 20.77}, {"s": "2015", "d": "2023-05-12", "v": 20.70}, {"s": "2015", "d": "2023-05-30", "v": 20.65}, {"s": "2015", "d": "2023-06-18", "v": 20.59}, {"s": "2015", "d": "2023-07-06", "v": 20.60}, {"s": "2015", "d": "2023-07-23", "v": 20.66}, {"s": "2015", "d": "2023-08-02", "v": 20.73}, {"s": "2015", "d": "2023-08-11", "v": 20.75}, {"s": "2015", "d": "2023-08-29", "v": 20.74}, {"s": "2015", "d": "2023-09-16", "v": 20.72}, {"s": "2015", "d": "2023-09-23", "v": 20.76}, {"s": "2015", "d": "2023-10-01", "v": 20.68}, {"s": "2015", "d": "2023-10-13", "v": 20.65}, {"s": "2015", "d": "2023-10-22", "v": 20.61}, {"s": "2015", "d": "2023-11-01", "v": 20.57}, {"s": "2015", "d": "2023-11-09", "v": 20.59}, {"s": "2015", "d": "2023-11-22", "v": 20.54}, {"s": "2015", "d": "2023-11-28", "v": 20.57}, {"s": "2015", "d": "2023-12-06", "v": 20.53}, {"s": "2015", "d": "2023-12-10", "v": 20.54}, {"s": "2015", "d": "2023-12-16", "v": 20.68}, {"s": "2015", "d": "2023-12-21", "v": 20.65}, {"s": "2015", "d": "2023-12-25", "v": 20.67}, {"s": "2015", "d": "2023-12-30", "v": 20.70},
      {"s": "2022", "d": "2023-01-01", "v": 20.62}, {"s": "2022", "d": "2023-01-11", "v": 20.67}, {"s": "2022", "d": "2023-01-16", "v": 20.68}, {"s": "2022", "d": "2023-01-19", "v": 20.65}, {"s": "2022", "d": "2023-02-02", "v": 20.69}, {"s": "2022", "d": "2023-02-10", "v": 20.73}, {"s": "2022", "d": "2023-02-20", "v": 20.78}, {"s": "2022", "d": "2023-03-04", "v": 20.76}, {"s": "2022", "d": "2023-03-13", "v": 20.84}, {"s": "2022", "d": "2023-03-23", "v": 20.82}, {"s": "2022", "d": "2023-04-02", "v": 20.81}, {"s": "2022", "d": "2023-04-15", "v": 20.76}, {"s": "2022", "d": "2023-04-24", "v": 20.75}, {"s": "2022", "d": "2023-05-03", "v": 20.74}, {"s": "2022", "d": "2023-05-12", "v": 20.67}, {"s": "2022", "d": "2023-05-30", "v": 20.66}, {"s": "2022", "d": "2023-06-18", "v": 20.61}, {"s": "2022", "d": "2023-07-06", "v": 20.62}, {"s": "2022", "d": "2023-07-23", "v": 20.66}, {"s": "2022", "d": "2023-08-11", "v": 20.74}, {"s": "2022", "d": "2023-08-29", "v": 20.74}, {"s": "2022", "d": "2023-09-16", "v": 20.66}, {"s": "2022", "d": "2023-09-25", "v": 20.59}, {"s": "2022", "d": "2023-10-04", "v": 20.55}, {"s": "2022", "d": "2023-10-13", "v": 20.53}, {"s": "2022", "d": "2023-10-22", "v": 20.47}, {"s": "2022", "d": "2023-11-06", "v": 20.49}, {"s": "2022", "d": "2023-11-19", "v": 20.43}, {"s": "2022", "d": "2023-11-28", "v": 20.49}, {"s": "2022", "d": "2023-12-06", "v": 20.52}, {"s": "2022", "d": "2023-12-16", "v": 20.55}, {"s": "2022", "d": "2023-12-25", "v": 20.56}, {"s": "2022", "d": "2023-12-29", "v": 20.55},
      {"s": "2023", "d": "2023-01-01", "v": 20.55}, {"s": "2023", "d": "2023-01-05", "v": 20.53}, {"s": "2023", "d": "2023-01-10", "v": 20.60}, {"s": "2023", "d": "2023-01-16", "v": 20.67}, {"s": "2023", "d": "2023-01-20", "v": 20.70}, {"s": "2023", "d": "2023-01-23", "v": 20.72}, {"s": "2023", "d": "2023-02-01", "v": 20.74}, {"s": "2023", "d": "2023-02-10", "v": 20.79}, {"s": "2023", "d": "2023-02-20", "v": 20.84}, {"s": "2023", "d": "2023-03-01", "v": 20.87}, {"s": "2023", "d": "2023-03-10", "v": 20.94}, {"s": "2023", "d": "2023-03-15", "v": 21.00}, {"s": "2023", "d": "2023-03-20", "v": 21.00}, {"s": "2023", "d": "2023-03-23", "v": 21.00}, {"s": "2023", "d": "2023-04-01", "v": 21.04}, {"s": "2023", "d": "2023-04-03", "v": 21.05}, {"s": "2023", "d": "2023-04-10", "v": 21.04}, {"s": "2023", "d": "2023-04-20", "v": 21.02}, {"s": "2023", "d": "2023-04-24", "v": 21.00}, {"s": "2023", "d": "2023-05-01", "v": 20.95}, {"s": "2023", "d": "2023-05-10", "v": 20.92}, {"s": "2023", "d": "2023-05-20", "v": 20.88}, {"s": "2023", "d": "2023-06-01", "v": 20.85}, {"s": "2023", "d": "2023-06-10", "v": 20.88}, {"s": "2023", "d": "2023-06-20", "v": 20.88}, {"s": "2023", "d": "2023-07-01", "v": 20.91}, {"s": "2023", "d": "2023-07-10", "v": 20.90}, {"s": "2023", "d": "2023-07-15", "v": 20.96}, {"s": "2023", "d": "2023-07-20", "v": 21.02}, {"s": "2023", "d": "2023-07-27", "v": 21.02}, {"s": "2023", "d": "2023-08-03", "v": 21.04}, {"s": "2023", "d": "2023-08-11", "v": 21.04}, {"s": "2023", "d": "2023-08-20", "v": 21.08}, {"s": "2023", "d": "2023-08-25", "v": 21.09}, {"s": "2023", "d": "2023-08-29", "v": 21.08}, {"s": "2023", "d": "2023-09-02", "v": 21.04}, {"s": "2023", "d": "2023-09-05", "v": 21.06}, {"s": "2023", "d": "2023-09-09", "v": 21.085}, {"s": "2023", "d": "2023-09-13", "v": 21.04}, {"s": "2023", "d": "2023-09-17", "v": 20.97}
    ],
    "labels": [
      {"label": "2023", "k": "y23", "d": "2023-09-17", "v": 20.97},
      {"label": "plus 4σ", "k": "sig", "d": "2023-12-31", "v": 20.77},
      {"label": "2015", "k": "yr", "d": "2023-12-31", "v": 20.70},
      {"label": "2022", "k": "yr", "d": "2023-12-31", "v": 20.57},
      {"label": "2016", "k": "yr", "d": "2023-12-31", "v": 20.48},
      {"label": "plus 2σ", "k": "sig", "d": "2023-12-31", "v": 20.42},
      {"label": "1982-2011 mean", "k": "sig", "d": "2023-12-31", "v": 20.10},
      {"label": "minus 2σ", "k": "sig", "d": "2023-12-31", "v": 19.77}
    ]
  },
  "layer": [
    {
      "data": {"name": "band"},
      "mark": {"type": "area", "color": "#f3edeb", "clip": true},
      "encoding": {
        "x": {"field": "d", "type": "temporal", "scale": {"type": "utc", "domain": ["2023-01-01", "2023-12-31"]},
          "axis": {"title": null, "format": "%b %-d", "tickCount": {"interval": "month", "step": 1}, "labelAlign": "left", "labelPadding": 6, "labelOverlap": false, "labelFlush": false}},
        "y": {"field": "m4", "type": "quantitative", "scale": {"domain": [19.5, 21.15], "nice": false, "zero": false},
          "axis": {"title": "Temperature (°C)", "values": [19.5, 20, 20.5, 21], "format": "~g", "labelPadding": 10, "titleFontSize": 13, "titleFontWeight": "normal", "titleColor": "#222", "titlePadding": 8}},
        "y2": {"field": "p4"}
      }
    },
    {
      "data": {"name": "band"},
      "mark": {"type": "area", "color": "#e2d3cf", "clip": true},
      "encoding": {
        "x": {"field": "d", "type": "temporal"},
        "y": {"field": "m2", "type": "quantitative"},
        "y2": {"field": "p2"}
      }
    },
    {
      "data": {"name": "grays"},
      "mark": {"type": "line", "color": "#857c7a", "strokeWidth": 0.75, "opacity": 0.55, "clip": true},
      "encoding": {
        "x": {"field": "d", "type": "temporal"},
        "y": {"field": "v", "type": "quantitative"},
        "detail": {"field": "s"}
      }
    },
    {
      "data": {"name": "band"},
      "mark": {"type": "line", "color": "#d3968b", "strokeWidth": 1.3, "strokeDash": [4, 3], "clip": true},
      "encoding": {
        "x": {"field": "d", "type": "temporal"},
        "y": {"field": "p2", "type": "quantitative"}
      }
    },
    {
      "data": {"name": "band"},
      "mark": {"type": "line", "color": "#d3968b", "strokeWidth": 1.3, "strokeDash": [4, 3], "clip": true},
      "encoding": {
        "x": {"field": "d", "type": "temporal"},
        "y": {"field": "m2", "type": "quantitative"}
      }
    },
    {
      "data": {"name": "band"},
      "mark": {"type": "line", "color": "#6b6262", "strokeWidth": 3, "strokeDash": [4, 2.5], "clip": true},
      "encoding": {
        "x": {"field": "d", "type": "temporal"},
        "y": {"field": "mean", "type": "quantitative"}
      }
    },
    {
      "data": {"name": "hi"},
      "transform": [{"filter": {"field": "s", "oneOf": ["2022", "2015", "2016"]}}],
      "mark": {"type": "line", "strokeWidth": 1.6, "clip": true},
      "encoding": {
        "x": {"field": "d", "type": "temporal"},
        "y": {"field": "v", "type": "quantitative"},
        "color": {"field": "s", "type": "nominal", "legend": null,
          "scale": {"domain": ["2015", "2016", "2022"], "range": ["#e8603e", "#d62f22", "#f6ab3e"]}},
        "order": {"field": "s", "sort": "descending"}
      }
    },
    {
      "data": {"name": "hi"},
      "transform": [{"filter": {"field": "s", "equal": "2023"}}],
      "mark": {"type": "line", "strokeWidth": 2.6, "color": "#111111", "clip": true},
      "encoding": {
        "x": {"field": "d", "type": "temporal"},
        "y": {"field": "v", "type": "quantitative"}
      }
    },
    {
      "data": {"name": "labels"},
      "transform": [{"filter": {"field": "k", "equal": "y23"}}],
      "mark": {"type": "text", "align": "left", "baseline": "middle", "dx": 7, "fontSize": 8.5, "color": "#111"},
      "encoding": {
        "x": {"field": "d", "type": "temporal"},
        "y": {"field": "v", "type": "quantitative"},
        "text": {"field": "label"}
      }
    },
    {
      "data": {"name": "labels"},
      "transform": [{"filter": {"field": "k", "equal": "sig"}}],
      "mark": {"type": "text", "align": "left", "baseline": "middle", "dx": 6, "fontSize": 8, "fontWeight": "bold", "color": "#333"},
      "encoding": {
        "x": {"field": "d", "type": "temporal"},
        "y": {"field": "v", "type": "quantitative"},
        "text": {"field": "label"}
      }
    },
    {
      "data": {"name": "labels"},
      "transform": [{"filter": {"field": "k", "equal": "yr"}}],
      "mark": {"type": "text", "align": "left", "baseline": "middle", "dx": 6, "fontSize": 8.5},
      "encoding": {
        "x": {"field": "d", "type": "temporal"},
        "y": {"field": "v", "type": "quantitative"},
        "text": {"field": "label"},
        "color": {"field": "label", "type": "nominal", "legend": null,
          "scale": {"domain": ["2015", "2022", "2016"], "range": ["#ef8068", "#f5a83c", "#df4535"]}}
      }
    }
  ]
}
